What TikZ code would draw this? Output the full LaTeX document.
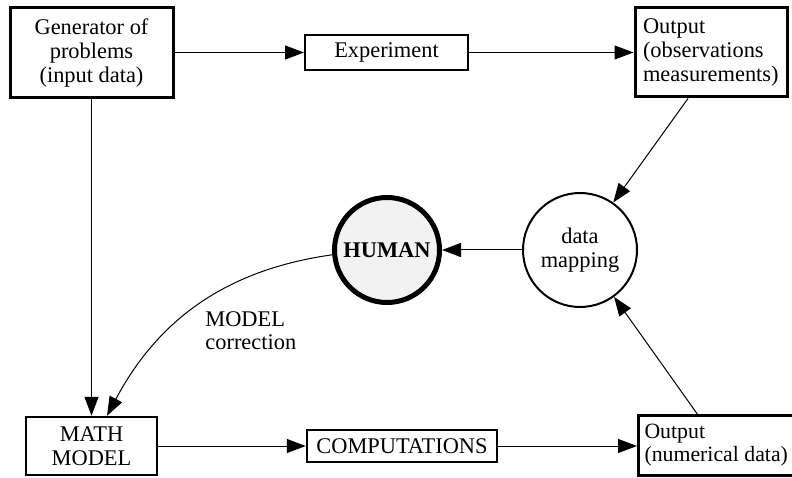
\documentclass[tikz,border=0pt]{standalone}
\usepackage{fontspec}
\setmainfont{Liberation Serif}
\newfontfamily\diagfont{Liberation Serif}
\usetikzlibrary{arrows.meta,calc}
\begin{document}
\begin{tikzpicture}[x=0.5pt,y=0.5pt,
  every node/.style={font=\diagfont\fontsize{11.2pt}{11.8pt}\selectfont},
  box/.style={draw,rectangle,align=center,inner sep=2pt},
  thickbox/.style={box,line width=1.5pt},
  thinbox/.style={box,line width=1pt},
  leftbox/.style={thickbox,align=left,text width=68pt,inner xsep=4pt},
  conn/.style={line width=0.5pt,-{Triangle[length=9.5pt,width=7pt]}}]
\useasboundingbox (0,0) rectangle (792,477);

% boxes
\node[thickbox,minimum width=81.5pt,minimum height=45pt] (gen) at (91.5,424)
  {Generator of\\problems\\(input data)};
\node[thinbox,minimum width=81.5pt,minimum height=17.5pt] (exp) at (386.5,424.5)
  {Experiment};
\node[leftbox,minimum height=44.5pt] (out1) at (711,424.5)
  {Output\\(observations\\measurements)};
\node[thickbox,line width=1.25pt,minimum width=65.5pt,minimum height=29pt] (math) at (91.5,31)
  {MATH\\MODEL};
\node[thickbox,line width=1.25pt,minimum width=95pt,minimum height=16pt] (comp) at (402,31)
  {COMPUTATIONS};
\node[thickbox,anchor=west,align=left,inner xsep=3pt,minimum height=30pt,
  font=\diagfont\fontsize{10.9pt}{11.8pt}\selectfont] (out2) at (637,32)
  {Output\\(numerical data)};

% circles
\node[draw,circle,line width=2.5pt,fill=black!5,minimum size=52.5pt,inner sep=0pt] (human) at (387,227)
  {\textbf{HUMAN}};
\node[draw,circle,line width=1pt,minimum size=57pt,inner sep=0pt,align=center] (dmap) at (580,227)
  {data\\mapping};

% label on the correction curve
\node[anchor=north west,inner sep=0pt,align=left] (lbl) at (205,166)
  {MODEL\\correction};

% connectors
\coordinate (out2top) at (698,62);
\draw[conn] (gen.east |- exp.west) -- (exp.west);
\draw[conn] (exp.east) -- (out1.west |- exp.east);
\draw[conn] ($(out1.south)+(-23,0)$) -- (dmap.55);
\draw[conn] (out2top) -- (dmap.-54);
\draw[conn] (dmap.west) -- (human.east);
\draw[conn] (human.185) to[out=188,in=62] ($(math.north)+(15.5,0)$);
\draw[conn] (gen.south) -- (math.north);
\draw[conn] (math.east) -- (comp.west);
\draw[conn] (comp.east) -- (out2.west |- comp.east);
\end{tikzpicture}
\end{document}
